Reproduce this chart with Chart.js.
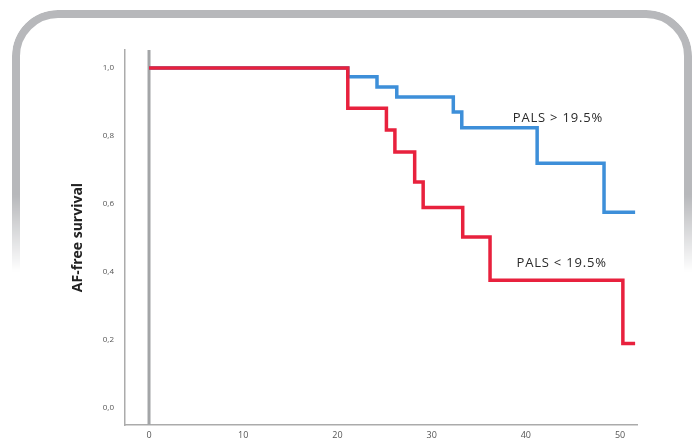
<!DOCTYPE html>
<html>
<head>
<meta charset="utf-8">
<script src="https://cdn.jsdelivr.net/npm/chart.js@4/dist/chart.umd.min.js"></script>
<style>
  html, body { margin: 0; padding: 0; background: #fff; }
  #wrap { position: relative; width: 697px; height: 443px; overflow: hidden; }
  #frame {
    position: absolute; left: 12px; top: 10px; width: 680px; height: 460px;
    box-sizing: border-box; border: 8px solid #b7b8bb; border-radius: 46px;
    -webkit-mask-image: linear-gradient(to bottom, #000 0px, #000 185px, rgba(0,0,0,0) 262px);
    mask-image: linear-gradient(to bottom, #000 0px, #000 185px, rgba(0,0,0,0) 262px);
    pointer-events: none;
  }
  canvas { position: absolute; left: 0; top: 0; }
</style>
</head>
<body>
<div id="wrap">
  <canvas id="c" width="697" height="443"></canvas>
  <div id="frame"></div>
</div>
<script>
// Kaplan-Meier step data (time in months, AF-free survival)
const lowTimes  = [0, 21.1, 25.2, 26.1, 28.2, 29.1, 33.3, 36.2, 50.3, 51.6];
const lowSurv   = [1.0, 0.882, 0.818, 0.753, 0.665, 0.59, 0.503, 0.376, 0.19, 0.19];
const highTimes = [0, 21.1, 24.2, 26.3, 32.3, 33.2, 41.2, 48.3, 51.6];
const highSurv  = [1.0, 0.974, 0.944, 0.915, 0.871, 0.824, 0.72, 0.576, 0.576];
const xTicks = [0, 10, 20, 30, 40, 50];
const yTicks = [0, 0.2, 0.4, 0.6, 0.8, 1.0];
const seriesLabels = ['PALS < 19.5%', 'PALS > 19.5%'];
const labelPos = [{x: 43.8, y: 0.426}, {x: 43.4, y: 0.853}];
const yTitle = 'AF-free survival';
const xMin = -2.55, xMax = 51.8, yMin = -0.05, yMax = 1.053;

const toPts = (t, s) => t.map((v, i) => ({x: v, y: s[i]}));

const labelPlugin = {
  id: 'curveLabels',
  afterDatasetsDraw(chart) {
    const {ctx, scales: {x, y}} = chart;
    ctx.save();
    ctx.font = '13px "Open Sans", sans-serif';
    ctx.letterSpacing = '0.8px';
    ctx.fillStyle = '#2a2a2a';
    ctx.textAlign = 'center';
    ctx.textBaseline = 'middle';
    seriesLabels.forEach((l, i) => {
      ctx.fillText(l, x.getPixelForValue(labelPos[i].x), y.getPixelForValue(labelPos[i].y));
    });
    ctx.restore();
  }
};

new Chart(document.getElementById('c'), {
  type: 'line',
  data: {
    datasets: [
      { label: seriesLabels[0], data: toPts(lowTimes, lowSurv), borderColor: '#e8213d', borderWidth: 3.5, stepped: 'before', pointRadius: 0, fill: false },
      { label: seriesLabels[1], data: toPts(highTimes, highSurv), borderColor: '#3d8fd9', borderWidth: 3.5, stepped: 'before', pointRadius: 0, fill: false },
      { label: 'baseline', data: [{x: 0, y: yMin}, {x: 0, y: yMax}], borderColor: '#a3a5a7', borderWidth: 3, pointRadius: 0, fill: false }
    ]
  },
  options: {
    responsive: false,
    animation: false,
    layout: { padding: { left: 66, top: 50, right: 60, bottom: 0 } },
    plugins: { legend: { display: false }, tooltip: { enabled: false } },
    scales: {
      x: {
        type: 'linear', min: xMin, max: xMax,
        afterBuildTicks: s => { s.ticks = xTicks.map(v => ({value: v})); },
        afterFit: s => { s.height = 18; },
        grid: { display: false, drawTicks: false },
        border: { display: true, color: '#ababab', width: 1.5 },
        ticks: { padding: 5, color: '#555', font: { size: 9, family: 'Open Sans' }, maxRotation: 0 }
      },
      y: {
        type: 'linear', min: yMin, max: yMax,
        afterBuildTicks: s => { s.ticks = yTicks.map(v => ({value: v})); },
        afterFit: s => { s.width = 59; },
        grid: { display: false, drawTicks: false },
        border: { display: true, color: '#ababab', width: 1.5 },
        ticks: { padding: 11, color: '#555', font: { size: 8, family: 'Open Sans' },
                 callback: v => v.toFixed(1).replace('.', ',') },
        title: { display: true, text: yTitle, color: '#222', font: { size: 14, weight: 'bold', family: 'Open Sans' }, padding: { top: 4, bottom: 0 } }
      }
    }
  },
  plugins: [labelPlugin]
});
</script>
</body>
</html>
